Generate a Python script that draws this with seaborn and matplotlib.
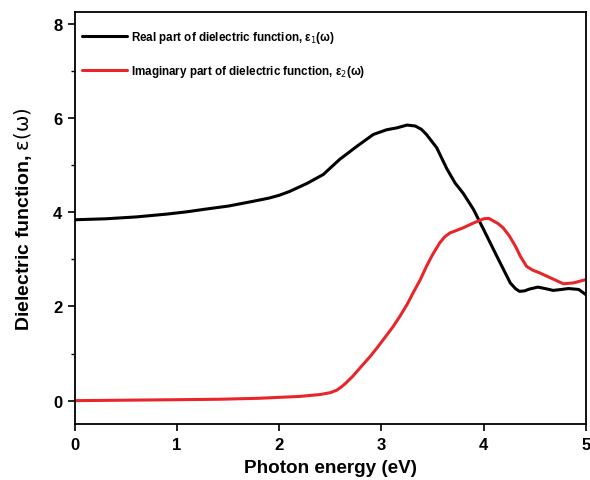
import matplotlib
matplotlib.use("Agg")
import matplotlib.pyplot as plt
from matplotlib.ticker import MultipleLocator
import pandas as pd
import seaborn as sns

# Real part of the dielectric function, eps1(omega)
energy_real = [0.0, 0.3, 0.6, 0.9, 1.1, 1.26, 1.5, 1.74, 1.9, 2.0, 2.1, 2.27, 2.43, 2.59,
               2.76, 2.92, 3.05, 3.15, 3.25, 3.33, 3.39, 3.44, 3.54, 3.64, 3.72, 3.8,
               3.9, 4.0, 4.13, 4.26, 4.31, 4.35, 4.4, 4.45, 4.53, 4.6, 4.68, 4.76,
               4.83, 4.93, 5.0]
eps_real = [3.84, 3.86, 3.90, 3.96, 4.01, 4.06, 4.13, 4.23, 4.30, 4.36, 4.44, 4.61, 4.80,
            5.12, 5.40, 5.65, 5.75, 5.79, 5.85, 5.83, 5.76, 5.65, 5.37, 4.92, 4.62, 4.40,
            4.06, 3.63, 3.06, 2.50, 2.38, 2.32, 2.33, 2.37, 2.41, 2.38, 2.34, 2.36,
            2.38, 2.36, 2.25]

# Imaginary part of the dielectric function, eps2(omega)
energy_imag = [0.0, 0.5, 1.0, 1.42, 1.8, 2.2, 2.4, 2.5, 2.56, 2.6, 2.64, 2.72, 2.8, 2.89,
               2.96, 3.04, 3.11, 3.18, 3.25, 3.31, 3.38, 3.44, 3.5, 3.57, 3.62, 3.67,
               3.73, 3.8, 3.9, 4.0, 4.05, 4.09, 4.14, 4.19, 4.25, 4.31, 4.36, 4.42,
               4.48, 4.55, 4.66, 4.78, 4.88, 5.0]
eps_imag = [0.0, 0.01, 0.02, 0.03, 0.05, 0.09, 0.13, 0.17, 0.22, 0.28, 0.35, 0.52, 0.72,
            0.94, 1.13, 1.36, 1.56, 1.79, 2.04, 2.29, 2.57, 2.85, 3.10, 3.35, 3.48, 3.56,
            3.61, 3.67, 3.77, 3.86, 3.87, 3.82, 3.76, 3.67, 3.50, 3.28, 3.06, 2.85,
            2.77, 2.71, 2.60, 2.48, 2.50, 2.57]

label_real = r"Real part of dielectric function, ε$_1$(ω)"
label_imag = r"Imaginary part of dielectric function, ε$_2$(ω)"

df = pd.concat([
    pd.DataFrame({"energy": energy_real, "eps": eps_real, "part": label_real}),
    pd.DataFrame({"energy": energy_imag, "eps": eps_imag, "part": label_imag}),
])

sns.set_style("ticks")
plt.rcParams["font.family"] = ["Liberation Sans", "DejaVu Sans"]
plt.rcParams["mathtext.fontset"] = "dejavusans"
plt.rcParams["lines.solid_joinstyle"] = "round"
plt.rcParams["lines.solid_capstyle"] = "round"
for key in ("text.color", "axes.labelcolor", "xtick.color", "ytick.color",
            "axes.edgecolor"):
    plt.rcParams[key] = "black"

fig = plt.figure(figsize=(5.9, 4.81), dpi=100)
ax = fig.add_axes([0.127, 0.116, 0.866, 0.857])

sns.lineplot(data=df, x="energy", y="eps", hue="part", sort=False,
             palette={label_real: "#000000", label_imag: "#e8262a"},
             linewidth=2.2, ax=ax)

ax.set_xlim(0, 5)
ax.set_ylim(-0.5, 8.25)
ax.xaxis.set_major_locator(MultipleLocator(1))
ax.yaxis.set_major_locator(MultipleLocator(2))
ax.yaxis.set_minor_locator(MultipleLocator(1))

for side in ax.spines.values():
    side.set_linewidth(1.3)
    side.set_color("black")

ax.tick_params(axis="both", which="major", direction="out", length=5, width=1.2,
               labelsize=12, pad=4, colors="black")
ax.tick_params(axis="y", which="minor", direction="out", length=3, width=1.0,
               colors="black")
for lab in ax.get_xticklabels() + ax.get_yticklabels():
    lab.set_fontweight("bold")

ax.set_xlabel("Photon energy (eV)", fontsize=13.6, fontweight="bold", labelpad=5,
              color="black")
ax.set_ylabel(r"Dielectric function, $\mathrm{\varepsilon(\omega)}$", fontsize=14,
              fontweight="bold", labelpad=14, color="black")

leg = ax.legend(loc="upper left", bbox_to_anchor=(-0.006, 0.985), frameon=False,
                handlelength=3.85, handletextpad=0.3, labelspacing=1.55,
                borderaxespad=0.5, prop={"weight": "bold", "size": 8.4})
for text in leg.get_texts():
    text.set_color("black")
for line in leg.get_lines():
    line.set_linewidth(2.2)

fig.savefig("out.png", dpi=100)
